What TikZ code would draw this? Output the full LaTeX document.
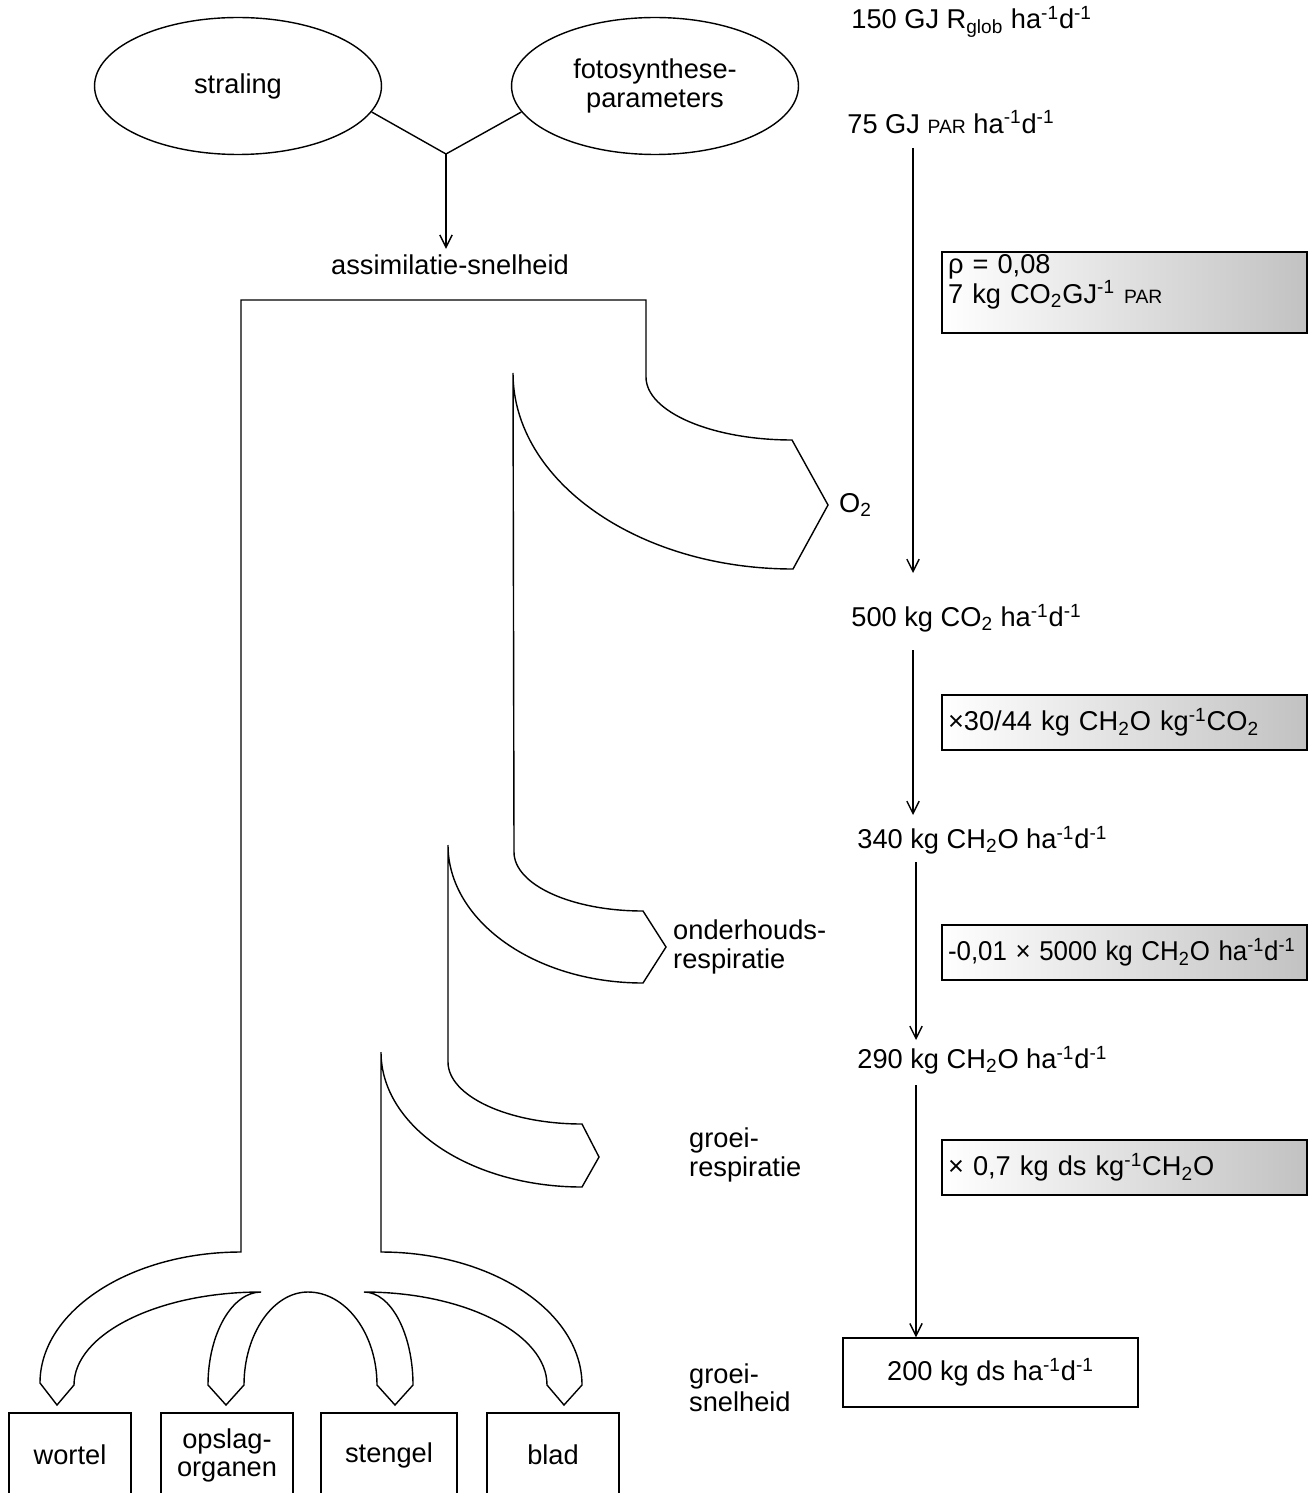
\documentclass[tikz,border=0pt]{standalone}
\usepackage{fontspec}
\setmainfont{Liberation Sans}
\usetikzlibrary{arrows.meta,shapes.geometric}

\newcommand{\perhad}{ha\textsuperscript{-1}d\textsuperscript{-1}}
\newcommand{\parsc}{{\fontsize{11}{12}\selectfont PAR}}

\begin{document}
\begin{tikzpicture}[
    x=0.02cm, y=-0.02cm,
    every node/.style={font=\fontsize{15.5}{16}\selectfont},
    channel/.style={line width=0.8pt, line join=miter},
    arr/.style={line width=0.8pt, -{Straight Barb[length=7pt,width=7pt]}},
    oval/.style={draw, line width=0.8pt, ellipse, minimum width=5.74cm, minimum height=2.74cm, align=center},
    factor/.style={draw, line width=0.8pt, left color=white, right color=black!24, text width=7.06cm, inner xsep=0.12cm, minimum height=1.1cm, align=left},
    organ/.style={draw, line width=0.8pt, minimum height=1.68cm, align=center},
    flux/.style={anchor=west, inner sep=0pt},
    side/.style={anchor=west, align=left}
  ]
  \useasboundingbox (0,0) rectangle (1311,1493);

  % inputs
  \node[oval] (straling) at (238,86) {straling};
  \node[oval] (fotosyn) at (655,86) {fotosynthese-\\parameters};
  \coordinate (join) at (446,154);
  \draw[channel] (straling.-11) -- (join) -- (fotosyn.191);
  \node (assim) at (450,265) {assimilatie-snelheid};
  \draw[arr] (join) -- (join |- assim.north);

  % flow of assimilates
  \draw[channel] (646,377) -- (646,300) -- (241,300) -- (241,1252)
    .. controls (130,1252) and (40,1311) .. (40,1383) -- (57,1405) -- (74,1385)
    .. controls (74,1334) and (158,1292) .. (261,1292)
    .. controls (232,1292) and (208,1334) .. (208,1385) -- (226,1405) -- (244,1385)
    .. controls (244,1334) and (273,1292) .. (308,1292)
    .. controls (346,1292) and (377,1334) .. (377,1385) -- (395,1405) -- (413,1385)
    .. controls (413,1334) and (391,1292) .. (364,1292)
    .. controls (465,1292) and (547,1334) .. (547,1385) -- (564,1405) -- (582,1385)
    .. controls (582,1312) and (492,1252) .. (381,1252)
    -- (381,1052)
    .. controls (381,1127) and (471,1187) .. (582,1187) -- (599,1157) -- (582,1124)
    .. controls (508,1124) and (448,1096) .. (448,1062)
    -- (448,845)
    .. controls (448,921) and (535,983) .. (643,983) -- (666,947) -- (643,911)
    .. controls (572,911) and (514,885) .. (514,852)
    -- (513,373)
    .. controls (513,481) and (638,569) .. (793,569) -- (828,505) -- (792,440)
    .. controls (712,440) and (646,412) .. (646,377) -- cycle;

  \node[side] (o2) at (833,505) {O\textsubscript{2}};
  \node[side] (maintlbl) at (667,947) {onderhouds-\\respiratie};
  \node[side] (growresp) at (683,1155) {groei-\\respiratie};
  \node[side] (growrate) at (683,1388) {groei-\\snelheid};

  % organs
  \node[organ, minimum width=2.44cm] (wortel) at (70,1455) {wortel};
  \node[organ, minimum width=2.64cm] (opslag) at (227,1455) {opslag-\\organen};
  \node[organ, minimum width=2.72cm] (stengel) at (389,1455) {stengel};
  \node[organ, minimum width=2.64cm] (blad) at (553,1455) {blad};

  % calculation column
  \node[flux] (glob) at (851,22) {150 GJ R\textsubscript{glob} \perhad};
  \node[flux] (par) at (847,122) {75 GJ \parsc{} \perhad};
  \node[flux] (co2) at (851,618) {500 kg CO\textsubscript{2} \perhad};
  \node[flux] (ch2o) at (857,840) {340 kg CH\textsubscript{2}O \perhad};
  \node[flux] (ch2ob) at (857,1060) {290 kg CH\textsubscript{2}O \perhad};

  \node[factor, inner ysep=0pt, minimum height=1.62cm] (rho) at (1124.5,292.5) {ρ = 0,08\\[1pt]7 kg CO\textsubscript{2}GJ\textsuperscript{-1} \parsc\\[-5pt]\strut};
  \node[factor] (conv) at (1124.5,722.5) {\mbox{×30/44 kg CH\textsubscript{2}O kg\textsuperscript{-1}CO\textsubscript{2}}};
  \node[factor] (maint) at (1124.5,952.5) {\scalebox{0.95}[1]{-0,01 × 5000 kg CH\textsubscript{2}O \perhad}};
  \node[factor] (eff) at (1124.5,1167.5) {\mbox{× 0,7 kg ds kg\textsuperscript{-1}CH\textsubscript{2}O}};
  \node[draw, line width=0.8pt, minimum width=5.9cm, minimum height=1.38cm] (growth) at (990.5,1372.5) {200 kg ds \perhad};

  \coordinate (a0) at (913,148); \coordinate (a1) at (913,573);
  \coordinate (b0) at (913,650); \coordinate (b1) at (913,815);
  \coordinate (c0) at (916,862); \coordinate (c1) at (916,1040);
  \coordinate (d0) at (916,1085);
  \draw[arr] (a0) -- (a1);
  \draw[arr] (b0) -- (b1);
  \draw[arr] (c0) -- (c1);
  \draw[arr] (d0) -- (d0 |- growth.north);
\end{tikzpicture}
\end{document}
